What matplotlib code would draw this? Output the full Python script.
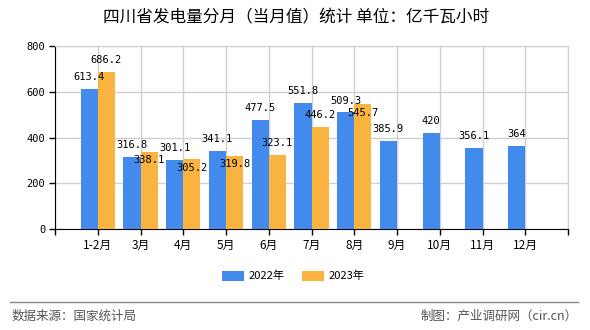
import numpy as np
import matplotlib.pyplot as plt
from matplotlib.lines import Line2D

# data
months = ['1-2月', '3月', '4月', '5月', '6月', '7月', '8月', '9月', '10月', '11月', '12月']
val_2022 = [613.4, 316.8, 301.1, 341.1, 477.5, 551.8, 509.3, 385.9, 420, 356.1, 364]
val_2023 = [686.2, 338.1, 305.2, 319.8, 323.1, 446.2, 545.7]
lbl_2022 = ['613.4', '316.8', '301.1', '341.1', '477.5', '551.8', '509.3', '385.9', '420', '356.1', '364']
lbl_2023 = ['686.2', '338.1', '305.2', '319.8', '323.1', '446.2', '545.7']
# 2023 labels pushed under the bar top where they would collide
below_2023 = [False, True, True, True, False, False, True]

blue = '#428BEC'
orange = '#FBB33F'
cjk = ['Noto Sans CJK SC', 'DejaVu Sans']
mono = ['DejaVu Sans Mono', 'Noto Sans CJK SC']

fig = plt.figure(figsize=(5.9, 3.3), dpi=100)
ax = fig.add_axes([55/590, 1-229/330, 513/590, 183/330])

x1 = np.arange(len(val_2022))
x2 = np.arange(len(val_2023))
w = 0.4
ax.bar(x1 - w/2, val_2022, width=w, color=blue, label='2022年', zorder=3)
ax.bar(x2 + w/2, val_2023, width=w, color=orange, label='2023年', zorder=3)

for i, v in enumerate(val_2022):
    ax.annotate(lbl_2022[i], (i - w/2, v), xytext=(0, 5), textcoords='offset points',
                ha='center', va='bottom', fontsize=7.5, family=mono, zorder=5)
for i, v in enumerate(val_2023):
    if below_2023[i]:
        dy, va = -2.5, 'top'
    else:
        dy, va = 5, 'bottom'
    ax.annotate(lbl_2023[i], (i + w/2, v), xytext=(0, dy), textcoords='offset points',
                ha='center', va=va, fontsize=7.5, family=mono, zorder=5)

ax.set_xlim(-1, 11)
ax.set_ylim(0, 800)
ax.set_yticks([0, 200, 400, 600, 800])
ax.set_xticks(list(range(-1, 12)))
ax.set_xticklabels([''] + months + [''])
for t in ax.get_xticklabels():
    t.set_family(cjk)
    t.set_fontsize(8.5)
for t in ax.get_yticklabels():
    t.set_family(mono)
    t.set_fontsize(7.5)
ax.tick_params(axis='both', length=4, width=1, color='black', pad=3)
ax.grid(True, color='#d0d0d0', lw=1, zorder=0)
ax.spines['left'].set_color('black')
ax.spines['bottom'].set_color('black')
ax.spines['top'].set_color('#d0d0d0')
ax.spines['right'].set_color('#d0d0d0')

fig.text(296/590, 1-18/330, '四川省发电量分月（当月值）统计 单位：亿千瓦小时',
         ha='center', va='center', fontsize=12, family=cjk)

fig.legend(loc='center', bbox_to_anchor=(293/590, 1-276/330), ncol=2, frameon=False,
           prop={'family': cjk, 'size': 8}, handlelength=2.0, handleheight=1.0,
           handletextpad=0.35, columnspacing=1.6)

fig.add_artist(Line2D([10/590, 578/590], [1-302/330, 1-302/330], color='#888888', lw=1,
                      transform=fig.transFigure))
fig.text(12/590, 1-316/330, '数据来源：国家统计局', ha='left', va='center',
         fontsize=9, family=cjk, color='#555555')
fig.text(578/590, 1-316/330, '制图：产业调研网（cir.cn）', ha='right', va='center',
         fontsize=9, family=cjk, color='#555555')

fig.savefig('out.png', dpi=100)
